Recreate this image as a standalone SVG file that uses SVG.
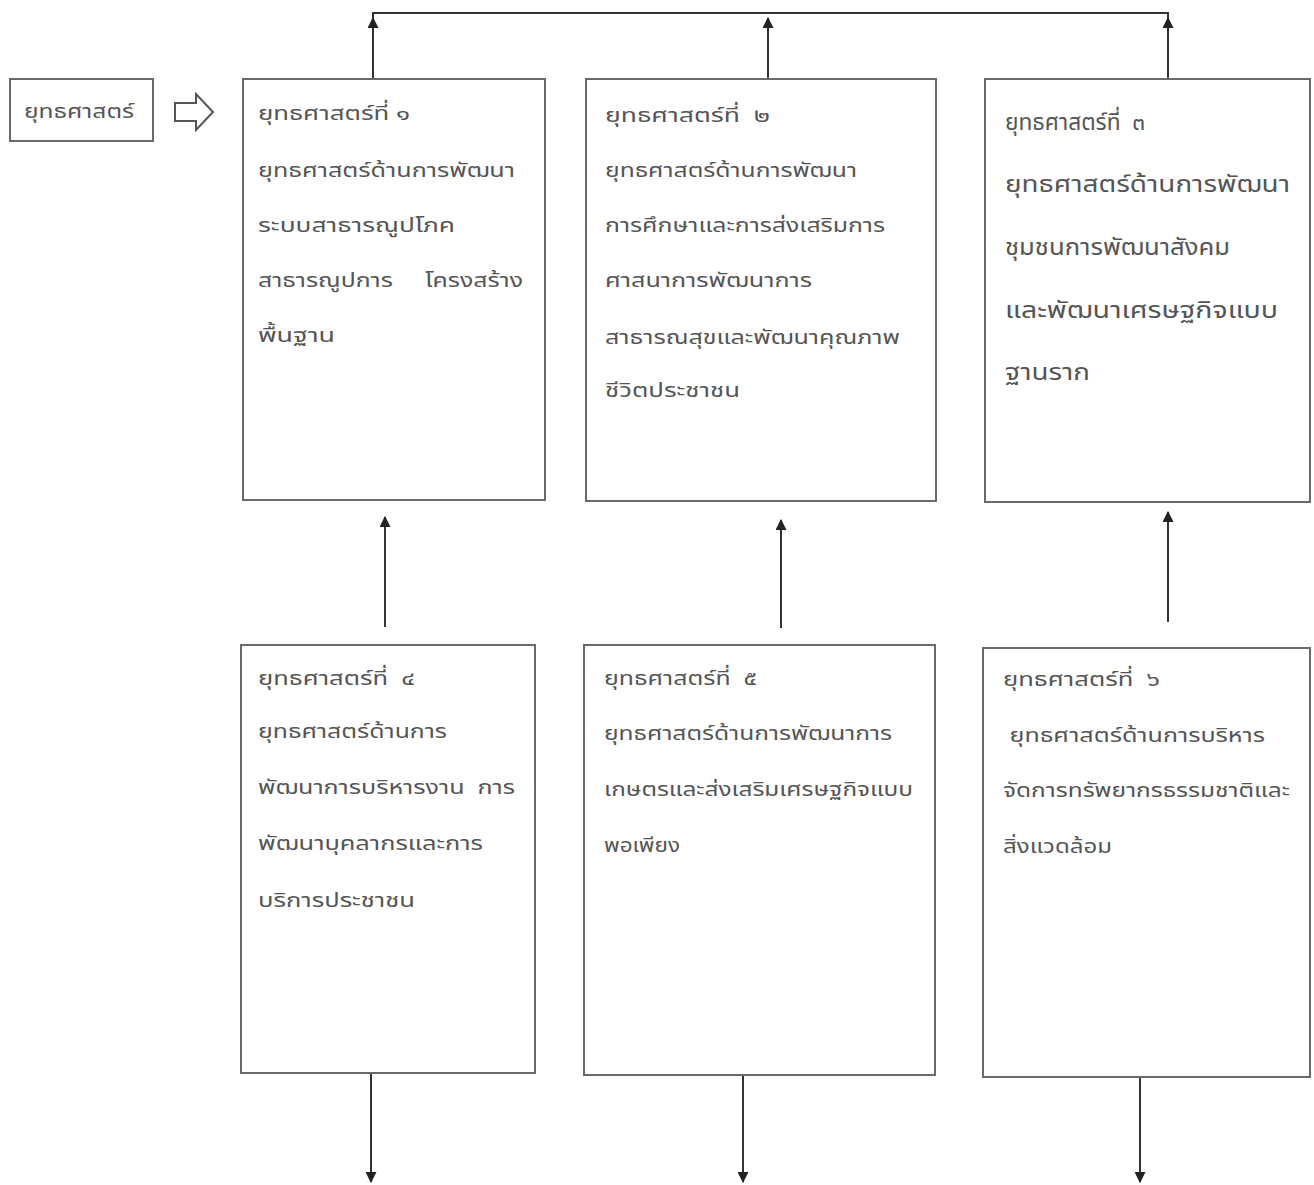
<svg xmlns="http://www.w3.org/2000/svg" width="1314" height="1185" viewBox="0 0 1314 1185">
<defs>
<marker id="ah" viewBox="0 0 10 10" refX="9" refY="5" markerWidth="11" markerHeight="11" markerUnits="userSpaceOnUse" orient="auto">
<path d="M0,0 L10,5 L0,10 z" fill="#222"/>
</marker>
<style>
.box{fill:#fff;stroke:#6a6a6a;stroke-width:2}
.t{font-family:"Noto Sans Thai","Liberation Sans","DejaVu Sans",sans-serif;font-size:20px;fill:#555;white-space:pre}
.t3{font-size:23px}
.c{fill:none;stroke:#333;stroke-width:2}
</style>
</defs>
<rect width="1314" height="1185" fill="#fff"/>
<g id="label">
<rect class="box" x="10" y="79" width="143" height="62"/>
<text class="t" x="24" y="118" textLength="110" lengthAdjust="spacingAndGlyphs">ยุทธศาสตร์</text>
</g>
<g id="bigarrow">
<path d="M175,103 L196,103 L196,94 L213,112 L196,130 L196,121 L175,121 Z" fill="#fff" stroke="#555" stroke-width="2"/>
</g>
<g id="connectors">
<polyline class="c" points="373,79 373,13 1168,13 1168,79"/>
<line class="c" x1="373" y1="60" x2="373" y2="18" marker-end="url(#ah)"/>
<line class="c" x1="768" y1="79" x2="768" y2="18" marker-end="url(#ah)"/>
<line class="c" x1="1168" y1="60" x2="1168" y2="18" marker-end="url(#ah)"/>
<line class="c" x1="385" y1="627" x2="385" y2="517" marker-end="url(#ah)"/>
<line class="c" x1="781" y1="628" x2="781" y2="520" marker-end="url(#ah)"/>
<line class="c" x1="1168" y1="622" x2="1168" y2="512" marker-end="url(#ah)"/>
<line class="c" x1="371" y1="1073" x2="371" y2="1182" marker-end="url(#ah)"/>
<line class="c" x1="743" y1="1075" x2="743" y2="1182" marker-end="url(#ah)"/>
<line class="c" x1="1140" y1="1077" x2="1140" y2="1182" marker-end="url(#ah)"/>
</g>
<g id="s1">
<rect class="box" x="243" y="79" width="302" height="421"/>
<text class="t" x="258" y="120" textLength="152" lengthAdjust="spacingAndGlyphs">ยุทธศาสตร์ที่ ๑</text>
<text class="t" x="258" y="177" textLength="257" lengthAdjust="spacingAndGlyphs">ยุทธศาสตร์ด้านการพัฒนา</text>
<text class="t" x="258" y="232" textLength="197" lengthAdjust="spacingAndGlyphs">ระบบสาธารณูปโภค</text>
<text class="t" x="258" y="287" textLength="265" lengthAdjust="spacingAndGlyphs">สาธารณูปการ     โครงสร้าง</text>
<text class="t" x="258" y="342" textLength="77" lengthAdjust="spacingAndGlyphs">พื้นฐาน</text>
</g>
<g id="s2">
<rect class="box" x="586" y="79" width="350" height="422"/>
<text class="t" x="605" y="122" textLength="165" lengthAdjust="spacingAndGlyphs">ยุทธศาสตร์ที่  ๒</text>
<text class="t" x="605" y="177" textLength="252" lengthAdjust="spacingAndGlyphs">ยุทธศาสตร์ด้านการพัฒนา</text>
<text class="t" x="605" y="232" textLength="280" lengthAdjust="spacingAndGlyphs">การศึกษาและการส่งเสริมการ</text>
<text class="t" x="605" y="287" textLength="207" lengthAdjust="spacingAndGlyphs">ศาสนาการพัฒนาการ</text>
<text class="t" x="605" y="344" textLength="295" lengthAdjust="spacingAndGlyphs">สาธารณสุขและพัฒนาคุณภาพ</text>
<text class="t" x="605" y="397" textLength="135" lengthAdjust="spacingAndGlyphs">ชีวิตประชาชน</text>
</g>
<g id="s3">
<rect class="box" x="985" y="79" width="325" height="423"/>
<text class="t t3" x="1005" y="130" textLength="140" lengthAdjust="spacingAndGlyphs">ยุทธศาสตร์ที่  ๓</text>
<text class="t t3" x="1005" y="192" textLength="285" lengthAdjust="spacingAndGlyphs">ยุทธศาสตร์ด้านการพัฒนา</text>
<text class="t t3" x="1005" y="255" textLength="225" lengthAdjust="spacingAndGlyphs">ชุมชนการพัฒนาสังคม</text>
<text class="t t3" x="1005" y="318" textLength="273" lengthAdjust="spacingAndGlyphs">และพัฒนาเศรษฐกิจแบบ</text>
<text class="t t3" x="1005" y="380" textLength="85" lengthAdjust="spacingAndGlyphs">ฐานราก</text>
</g>
<g id="s4">
<rect class="box" x="241" y="645" width="294" height="428"/>
<text class="t" x="258" y="685" textLength="157" lengthAdjust="spacingAndGlyphs">ยุทธศาสตร์ที่  ๔</text>
<text class="t" x="258" y="738" textLength="189" lengthAdjust="spacingAndGlyphs">ยุทธศาสตร์ด้านการ</text>
<text class="t" x="258" y="794" textLength="257" lengthAdjust="spacingAndGlyphs">พัฒนาการบริหารงาน  การ</text>
<text class="t" x="258" y="850" textLength="225" lengthAdjust="spacingAndGlyphs">พัฒนาบุคลากรและการ</text>
<text class="t" x="258" y="907" textLength="157" lengthAdjust="spacingAndGlyphs">บริการประชาชน</text>
</g>
<g id="s5">
<rect class="box" x="584" y="645" width="351" height="430"/>
<text class="t" x="604" y="685" textLength="153" lengthAdjust="spacingAndGlyphs">ยุทธศาสตร์ที่  ๕</text>
<text class="t" x="604" y="740" textLength="288" lengthAdjust="spacingAndGlyphs">ยุทธศาสตร์ด้านการพัฒนาการ</text>
<text class="t" x="604" y="796" textLength="309" lengthAdjust="spacingAndGlyphs">เกษตรและส่งเสริมเศรษฐกิจแบบ</text>
<text class="t" x="604" y="852" textLength="76" lengthAdjust="spacingAndGlyphs">พอเพียง</text>
</g>
<g id="s6">
<rect class="box" x="983" y="648" width="327" height="429"/>
<text class="t" x="1003" y="686" textLength="157" lengthAdjust="spacingAndGlyphs">ยุทธศาสตร์ที่  ๖</text>
<text class="t" x="1003" y="742" textLength="262" lengthAdjust="spacingAndGlyphs"> ยุทธศาสตร์ด้านการบริหาร</text>
<text class="t" x="1003" y="797" textLength="287" lengthAdjust="spacingAndGlyphs">จัดการทรัพยากรธรรมชาติและ</text>
<text class="t" x="1003" y="853" textLength="109" lengthAdjust="spacingAndGlyphs">สิ่งแวดล้อม</text>
</g>
</svg>
